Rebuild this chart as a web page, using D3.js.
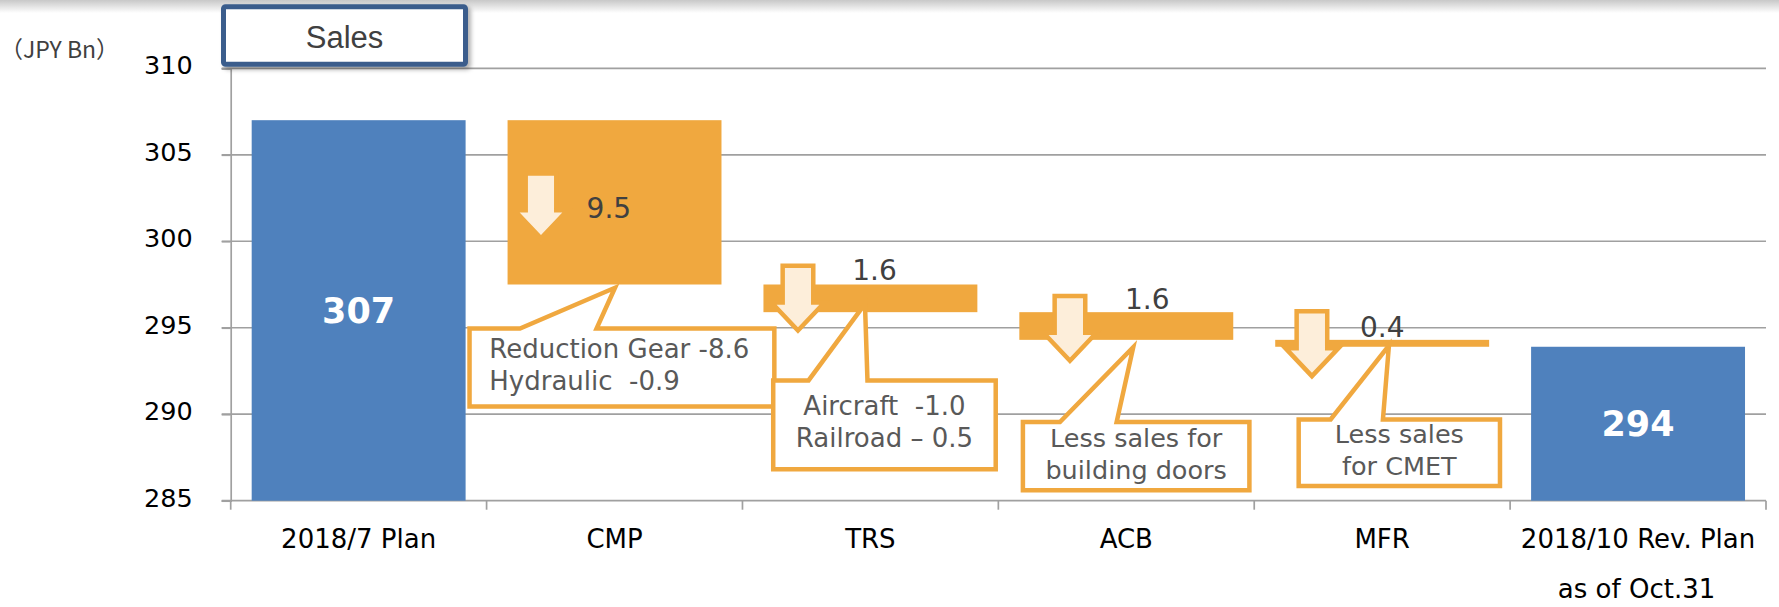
<!DOCTYPE html>
<html>
<head>
<meta charset="utf-8">
<script src="https://cdn.jsdelivr.net/npm/d3@7"></script>
<style>
  html, body { margin: 0; padding: 0; background: #fff; }
  svg { display: block; }
</style>
</head>
<body>
<svg id="chart" width="1779" height="607"></svg>
<script>
// ---------------- data ----------------
const categories = ["2018/7 Plan", "CMP", "TRS", "ACB", "MFR", "2018/10 Rev. Plan"];
const categorySubLabels = ["", "", "", "", "", "as of Oct.31"];
const startValue = 307;
const endValue = 293.9;
const totalLabels = ["307", "294"];
const changeCategories = ["CMP", "TRS", "ACB", "MFR"];
const changeValues = [-9.5, -1.6, -1.6, -0.4];
const changeLabels = ["9.5", "1.6", "1.6", "0.4"];
const noteLines = [
  ["Reduction Gear -8.6", "Hydraulic  -0.9"],
  ["Aircraft  -1.0", "Railroad \u2013 0.5"],
  ["Less sales for", "building doors"],
  ["Less sales", "for CMET"]
];
const yTicks = [285, 290, 295, 300, 305, 310];
const unitLabel = "\uFF08JPY Bn\uFF09";
const titleText = "Sales";

// ---------------- layout (annotation placement, px offsets) ----------------
const noteLayout = [
  { ax: 54.4, at: 51,   lx: 100,   ly: 97.5, bx: [-19.3, 290],  by: [41.7, 124.3], pl: 33.4, pr: 110,   tx: 128.4, ty: 3.3,  anchor: "start",  textX: 2.7,  tb: [73.3, 105],   fs: 26 },
  { ax: 55.5, at: -21,  lx: 109.8, ly: -5,   bx: [28.5, 255.5], by: [66, 159.4],   pl: 66.1, pr: 125,   tx: 122.5, ty: -8.3, anchor: "middle", textX: 142,  tb: [102.7, 134.4], fs: 26 },
  { ax: 71.6, at: -18.4,lx: 126.6, ly: -3.4, bx: [22.3, 253.3], by: [80, 152.7],   pl: 61.6, pr: 118.3, tx: 134.9, ty: 7.3,  anchor: "middle", textX: 137.8,tb: [106.7, 139.3], fs: 25.5 },
  { ax: 57.7, at: -30.7,lx: 105.7, ly: -2.7, bx: [42.2, 248],   by: [70.4, 141.4], pl: 76.4, pr: 128.7, tx: 134.7, ty: -1.2, anchor: "middle", textX: 145.1,tb: [96.4, 128.1],  fs: 25.5 }
];

const W = 1779, H = 607;
const plotLeft = 230.7, plotRight = 1766, plotTop = 68.3, plotBottom = 500.7;
const BLUE = "#4f81bd", ORANGE = "#f0a83f", CREAM = "#fdeeda", GRID = "#a0a0a0";
const FONT = "'DejaVu Sans', Verdana, sans-serif";

const svg = d3.select("#chart");
const defs = svg.append("defs");

// top grey fade
const grad = defs.append("linearGradient").attr("id", "topfade").attr("x1", 0).attr("y1", 0).attr("x2", 0).attr("y2", 1);
grad.append("stop").attr("offset", "0%").attr("stop-color", "#c8c8c8");
grad.append("stop").attr("offset", "100%").attr("stop-color", "#ffffff");
svg.append("rect").attr("x", 0).attr("y", 0).attr("width", W).attr("height", 13).attr("fill", "url(#topfade)");

const shadow = defs.append("filter").attr("id", "shadow").attr("x", "-10%").attr("y", "-20%").attr("width", "130%").attr("height", "160%");
shadow.append("feDropShadow").attr("dx", 3).attr("dy", 3).attr("stdDeviation", 2).attr("flood-color", "#000").attr("flood-opacity", 0.3);

// scales
const x = d3.scaleBand().domain(categories).range([plotLeft, plotRight]).paddingInner(0.164).paddingOuter(0.082);
const y = d3.scaleLinear().domain([285, 310]).range([plotBottom, plotTop]);
const bandStart = c => x(c) - x.step() * x.paddingInner() / 2;

// gridlines
svg.append("g").selectAll("line").data(yTicks.slice(1)).join("line")
  .attr("x1", plotLeft - 9).attr("x2", plotRight)
  .attr("y1", d => y(d)).attr("y2", d => y(d))
  .attr("stroke", GRID).attr("stroke-width", 1.7);

// y axis
const yAxis = d3.axisLeft(y).tickValues(yTicks).tickSize(9).tickPadding(29).tickFormat(d3.format("d"));
const gy = svg.append("g").attr("transform", `translate(${plotLeft},0)`).call(yAxis);
gy.select(".domain").attr("stroke", GRID).attr("stroke-width", 1.7);
gy.selectAll(".tick line").attr("stroke", GRID).attr("stroke-width", 1.7);
gy.selectAll(".tick text").attr("font-family", FONT).attr("font-size", 25.5).attr("fill", "#000").attr("dy", "0.22em");

// x axis
const bounds = categories.map(bandStart).concat([plotRight]);
svg.append("line").attr("x1", plotLeft - 9).attr("x2", plotRight).attr("y1", plotBottom).attr("y2", plotBottom)
  .attr("stroke", GRID).attr("stroke-width", 1.7);
svg.append("g").selectAll("line").data(bounds).join("line")
  .attr("x1", d => d).attr("x2", d => d).attr("y1", plotBottom).attr("y2", plotBottom + 9)
  .attr("stroke", GRID).attr("stroke-width", 1.7);
svg.append("g").selectAll("text").data(categories).join("text")
  .attr("x", d => x(d) + x.bandwidth() / 2).attr("y", plotBottom + 47.6)
  .attr("text-anchor", "middle").attr("font-family", FONT).attr("font-size", 26).attr("fill", "#000")
  .text(d => d);
svg.append("g").selectAll("text").data(categories.filter((c, i) => categorySubLabels[i])).join("text")
  .attr("x", d => x(d) + x.bandwidth() / 2 - 1.5).attr("y", plotBottom + 97.3)
  .attr("text-anchor", "middle").attr("font-family", FONT).attr("font-size", 26).attr("fill", "#000")
  .text(d => categorySubLabels[categories.indexOf(d)]);

// waterfall steps
let running = startValue;
const steps = changeCategories.map((c, i) => {
  const top = running, bottom = running + changeValues[i];
  running = bottom;
  return { cat: c, top, bottom, label: changeLabels[i], notes: noteLines[i], lay: noteLayout[i] };
});
const totals = [
  { cat: categories[0], value: startValue, label: totalLabels[0] },
  { cat: categories[categories.length - 1], value: endValue, label: totalLabels[1] }
];

// total bars
svg.append("g").selectAll("rect").data(totals).join("rect")
  .attr("x", d => x(d.cat)).attr("width", x.bandwidth())
  .attr("y", d => y(d.value)).attr("height", d => y(285) - y(d.value))
  .attr("fill", BLUE);

// change bars
svg.append("g").selectAll("rect").data(steps).join("rect")
  .attr("x", d => x(d.cat)).attr("width", x.bandwidth())
  .attr("y", d => y(d.top)).attr("height", d => y(d.bottom) - y(d.top))
  .attr("fill", ORANGE);

// callouts
const callouts = svg.append("g");
steps.forEach(s => {
  const L = s.lay, bx = bandStart(s.cat), yb = y(s.bottom);
  const sw = 4.5, h = sw / 2;
  const x0 = bx + L.bx[0] + h, x1 = bx + L.bx[1] - h, y0 = yb + L.by[0] + h, y1 = yb + L.by[1] - h;
  const pts = [
    [x0, y0], [bx + L.pl, y0], [bx + L.tx, yb + L.ty], [bx + L.pr, y0],
    [x1, y0], [x1, y1], [x0, y1]
  ];
  callouts.append("path").attr("d", d3.line()(pts) + "Z")
    .attr("fill", "#fff").attr("stroke", ORANGE).attr("stroke-width", sw).attr("stroke-linejoin", "miter");
  s.notes.forEach((t, k) => {
    callouts.append("text")
      .attr("x", bx + L.textX).attr("y", yb + L.tb[k])
      .attr("text-anchor", L.anchor).attr("font-family", FONT).attr("font-size", L.fs)
      .attr("fill", "#595959").style("white-space", "pre").text(t);
  });
});

// down arrows
const arrows = svg.append("g");
steps.forEach(s => {
  const L = s.lay, cx = bandStart(s.cat) + L.ax, T = y(s.top) + L.at;
  const pts = [
    [cx - 15.3, T + 2.2], [cx + 15.3, T + 2.2], [cx + 15.3, T + 39], [cx + 26.5, T + 39],
    [cx, T + 67], [cx - 26.5, T + 39], [cx - 15.3, T + 39]
  ];
  arrows.append("path").attr("d", d3.line()(pts) + "Z")
    .attr("fill", CREAM).attr("stroke", ORANGE).attr("stroke-width", 4.5).attr("stroke-linejoin", "miter");
});

// change labels
svg.append("g").selectAll("text").data(steps).join("text")
  .attr("x", d => bandStart(d.cat) + d.lay.lx).attr("y", d => y(d.top) + d.lay.ly)
  .attr("font-family", FONT).attr("font-size", 28).attr("fill", "#404040")
  .text(d => d.label);

// total labels
svg.append("g").selectAll("text").data(totals).join("text")
  .attr("x", d => x(d.cat) + x.bandwidth() / 2)
  .attr("y", d => (y(d.value) + y(285)) / 2 + 12.5)
  .attr("text-anchor", "middle").attr("font-family", FONT).attr("font-weight", "bold")
  .attr("font-size", 35).attr("fill", "#fff")
  .text(d => d.label);

// unit label
svg.append("text").attr("x", 0).attr("y", 58)
  .attr("font-family", "'Noto Sans CJK JP', 'DejaVu Sans', sans-serif").attr("font-size", 23).attr("fill", "#404040")
  .text(unitLabel);

// title box
const tb = svg.append("g");
tb.append("rect").attr("x", 223.5).attr("y", 6.8).attr("width", 242).attr("height", 57.5).attr("rx", 2)
  .attr("fill", "#fff").attr("stroke", "#3a5d8c").attr("stroke-width", 5).attr("filter", "url(#shadow)");
tb.append("text").attr("x", 344.5).attr("y", 48).attr("text-anchor", "middle")
  .attr("font-family", "'Liberation Sans', Arial, sans-serif").attr("font-size", 31).attr("fill", "#404040")
  .text(titleText);
</script>
</body>
</html>
